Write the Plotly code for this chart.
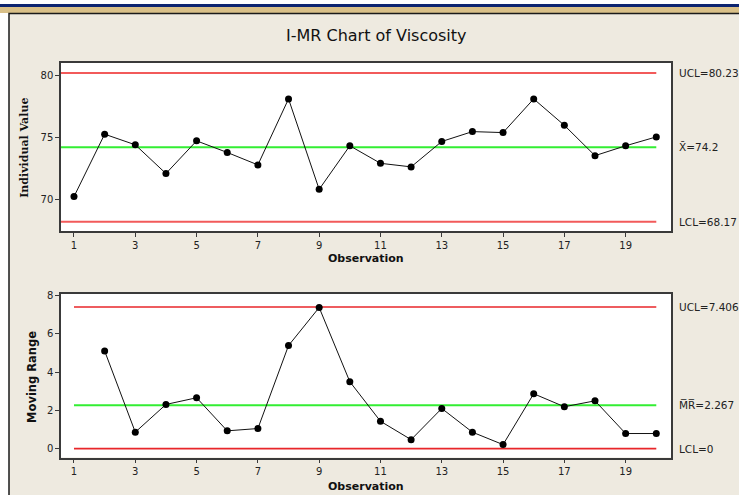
import plotly.graph_objects as go

# Viscosity observations
observation = list(range(1, 21))
individual_value = [70.2, 75.26, 74.4, 72.07, 74.72, 73.78, 72.77, 78.12, 70.79, 74.32,
                    72.9, 72.61, 74.67, 75.47, 75.39, 78.12, 75.98, 73.52, 74.32, 75.04]

# Moving ranges (first observation has none)
mr_observation = list(range(2, 21))
moving_range = [5.11, 0.86, 2.31, 2.66, 0.93, 1.05, 5.39, 7.38, 3.5, 1.43,
                0.47, 2.1, 0.86, 0.21, 2.87, 2.19, 2.5, 0.79, 0.79]

# Control limits
i_ucl, i_center, i_lcl = 80.23, 74.2, 68.17
mr_ucl, mr_center, mr_lcl = 7.406, 2.267, 0

x_ticks = [1, 3, 5, 7, 9, 11, 13, 15, 17, 19]
i_yticks = [70, 75, 80]
mr_yticks = [0, 2, 4, 6, 8]

W, H = 739, 495
XMIN, XMAX = 0.576, 20.48
FONT = "DejaVu Sans"
RED_TOP = "#f25a5a"
RED_BOT = "#e8262a"
GREEN = "#33ee33"

fig = go.Figure()

# Limit lines, individual chart
for val, col in [(i_ucl, RED_TOP), (i_lcl, RED_TOP), (i_center, GREEN)]:
    fig.add_trace(go.Scatter(x=[XMIN, 20], y=[val, val], mode="lines",
                             line=dict(color=col, width=2), xaxis="x", yaxis="y",
                             hoverinfo="skip"))
fig.add_trace(go.Scatter(x=observation, y=individual_value, mode="lines+markers",
                         line=dict(color="#111", width=1),
                         marker=dict(color="#000", size=7), xaxis="x", yaxis="y"))

# Limit lines, moving range chart
for val, col in [(mr_ucl, RED_BOT), (mr_lcl, RED_BOT), (mr_center, GREEN)]:
    fig.add_trace(go.Scatter(x=[1, 20], y=[val, val], mode="lines",
                             line=dict(color=col, width=1.6 if col == RED_BOT else 2),
                             xaxis="x2", yaxis="y2", hoverinfo="skip"))
fig.add_trace(go.Scatter(x=mr_observation, y=moving_range, mode="lines+markers",
                         line=dict(color="#111", width=1),
                         marker=dict(color="#000", size=7), xaxis="x2", yaxis="y2"))

xdom = [61 / W, 671 / W]
axis_common = dict(showline=True, mirror=True, linecolor="#3a3a3a", linewidth=1.5,
                   ticks="outside", ticklen=4, tickcolor="#3a3a3a", showgrid=False,
                   zeroline=False, tickfont=dict(family=FONT, size=10, color="#222"))

fig.update_layout(
    width=W, height=H, margin=dict(l=0, r=0, t=0, b=0),
    paper_bgcolor="white", plot_bgcolor="white", showlegend=False,
    xaxis=dict(domain=xdom, range=[XMIN, XMAX], tickvals=x_ticks, anchor="y", **axis_common),
    yaxis=dict(domain=[1 - 229 / H, 1 - 59 / H], range=[67.4, 81.07], tickvals=i_yticks,
               anchor="x", **axis_common),
    xaxis2=dict(domain=xdom, range=[XMIN, XMAX], tickvals=x_ticks, anchor="y2", **axis_common),
    yaxis2=dict(domain=[1 - 457.3 / H, 1 - 292.3 / H], range=[-0.47, 8.09], tickvals=mr_yticks,
                anchor="x2", **axis_common),
)

# Window frame behind the charts
fig.add_shape(type="rect", xref="paper", yref="paper", x0=0, x1=1, y0=1 - 3 / H, y1=1,
              fillcolor="#0c2470", line_width=0, layer="below")
fig.add_shape(type="rect", xref="paper", yref="paper", x0=0, x1=1, y0=1 - 9 / H, y1=1 - 3 / H,
              fillcolor="#d9c088", line_width=0, layer="below")
fig.add_shape(type="rect", xref="paper", yref="paper", x0=9 / W, x1=1.01, y0=-0.01, y1=1 - 9.5 / H,
              fillcolor="#eeeae0", line=dict(color="#1a1a1a", width=1.5), layer="below")
# White plotting areas on top of the frame
for xr, yr in [("x domain", "y domain"), ("x2 domain", "y2 domain")]:
    fig.add_shape(type="rect", xref=xr, yref=yr, x0=0, x1=1, y0=0, y1=1,
                  fillcolor="white", line_width=0, layer="below")

# Titles
fig.add_annotation(text="I-MR Chart of Viscosity", xref="paper", yref="paper",
                   x=376 / W, y=1 - 32 / H, showarrow=False, xanchor="center", yanchor="middle",
                   font=dict(family=FONT, size=16, color="#111"))
fig.add_annotation(text="<b>Individual Value</b>", xref="paper", yref="paper",
                   x=25 / W, y=1 - 145 / H, showarrow=False, textangle=-90,
                   xanchor="center", yanchor="middle",
                   font=dict(family="DejaVu Serif", size=11, color="#111"))
fig.add_annotation(text="<b>Moving Range</b>", xref="paper", yref="paper",
                   x=32 / W, y=1 - 376 / H, showarrow=False, textangle=-90,
                   xanchor="center", yanchor="middle",
                   font=dict(family=FONT, size=11.5, color="#111"))
for ypx in [257, 486]:
    fig.add_annotation(text="<b>Observation</b>", xref="paper", yref="paper",
                       x=366 / W, y=1 - ypx / H, showarrow=False,
                       xanchor="center", yanchor="middle",
                       font=dict(family=FONT, size=11, color="#111"))

# Limit labels to the right of each chart
labels = [
    ("y", i_ucl, f"UCL={i_ucl}"),
    ("y", i_center, f"X\u0304={i_center}"),
    ("y", i_lcl, f"LCL={i_lcl}"),
    ("y2", mr_ucl, f"UCL={mr_ucl}"),
    ("y2", mr_center, f"M\u0305R\u0305={mr_center}"),
    ("y2", mr_lcl, f"LCL={mr_lcl}"),
]
for yref, val, txt in labels:
    fig.add_annotation(text=txt, xref="paper", yref=yref, x=677 / W, y=val,
                       showarrow=False, xanchor="left", yanchor="middle",
                       font=dict(family=FONT, size=10.5, color="#222"))

fig.write_html("out.html")
